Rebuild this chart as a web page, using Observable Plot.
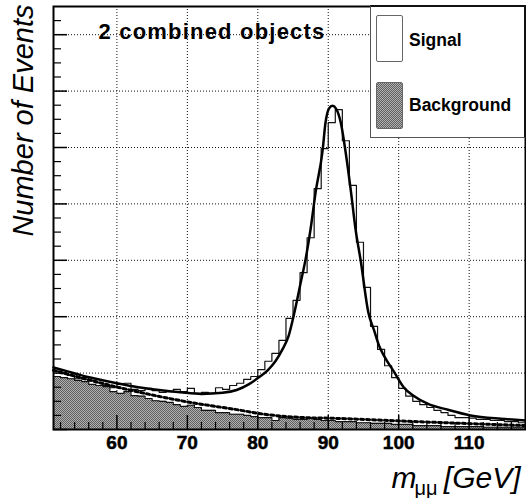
<!DOCTYPE html>
<html>
<head>
<meta charset="utf-8">
<script src="https://cdn.jsdelivr.net/npm/d3@7"></script>
<script src="https://cdn.jsdelivr.net/npm/@observablehq/plot@0.6"></script>
<style>
  html, body { margin: 0; padding: 0; background: #fff; }
  #wrap { position: relative; width: 526px; height: 498px; font-family: "Liberation Sans", Arial, Helvetica, sans-serif; }
  #legend { position: absolute; left: 370px; top: 5px; width: 156px; height: 133px; box-sizing: border-box;
    background: #fff; border-left: 1px solid #555; border-bottom: 1px solid #555; border-top: 2px solid #111; border-right: 2px solid #111; }
  .sw { position: absolute; left: 5px; width: 27px; height: 47px; box-sizing: border-box; border: 1.5px solid #666; border-radius: 2px; }
  .lab { position: absolute; left: 38px; font-size: 17.5px; font-weight: bold; line-height: 1; color: #000; white-space: nowrap; }
</style>
</head>
<body>
<div id="wrap"></div>
<script>
// ---- data ----
const binLow = [51,52,53,54,55,56,57,58,59,60,61,62,63,64,65,66,67,68,69,70,71,72,73,74,75,76,77,78,79,80,
  81,82,83,84,85,86,87,88,89,90,91,92,93,94,95,96,97,98,99,100,101,102,103,104,105,106,107,108,109,110,
  111,112,113,114,115,116,117];
const binWidth = 1;
const totalCounts = [103,99,96,90,92,87,83,78,74,80,82,71,69,73,69,66,67,71,67,73,
  64,66,64,74,71,78,82,89,94,106,121,135,158,197,229,278,340,427,498,544,
  567,512,433,332,252,183,142,113,92,73,59,50,44,39,34,30,25,21,21,20,
  18,18,16,16,14,14,12];
const backgroundCounts = [94,92,90,87,85,80,78,76,67,64,67,60,59,55,51,50,48,44,41,43,
  39,34,34,30,30,27,27,25,23,21,21,16,21,20,18,18,20,18,16,16,
  14,14,14,12,12,11,11,11,9,9,9,7,7,7,7,5,5,5,5,5,
  5,4,4,4,4,4,4];
const fitMass = [51.0,53.0,55.0,57.0,60.0,63.0,66.0,69.0,72.0,75.0,77.0,78.7,80.1,81.4,82.5,83.5,84.4,85.1,86.1,86.8,
  87.5,88.2,89.2,89.6,90.1,90.6,91.1,91.8,92.5,93.2,93.9,94.6,95.7,96.5,97.2,97.9,99.3,100.7,102.1,104.1,
  107.0,110.2,114.5,118.0];
const fitEvents = [110,103,96,90,82,75,70,66,63,65,70,80,92,105,121,142,167,202,261,303,
  356,420,495,543,569,574,569,543,489,424,353,300,207,176,149,131,103,75,60,46,
  35,25,19,16];
const bkgFitMass = [51.0,60.1,70.0,77.6,80.4,86.8,90.4,100.3,108.8,118.0];
const bkgFitEvents = [105,75,49,34,28,21,20,15,11,7];
const xTickValues = [60,70,80,90,100,110];
const xMinorTicks = [52,54,56,58,62,64,66,68,72,74,76,78,82,84,86,88,92,94,96,98,102,104,106,108,112,114,116];
const yMajorTicks = [0,100,200,300,400,500,600,700];
const yMinorTicks = [25,50,75,125,150,175,225,250,275,325,350,375,425,450,475,525,550,575,625,650,675,725];
const legendLabels = ["Signal", "Background"];
const boxLabel = "2 combined objects";
const yTitle = "Number of Events";
const xTitleMain = "m";
const xTitleSub = "μμ";
const xTitleUnit = "[GeV]";

// ---- derived tables ----
const lastEdge = binLow[binLow.length - 1] + binWidth;
const totalSteps = binLow.map((x, i) => ({x, y: totalCounts[i]})).concat([{x: lastEdge, y: totalCounts[totalCounts.length - 1]}]);
const bkgSteps = binLow.map((x, i) => ({x, y: backgroundCounts[i]})).concat([{x: lastEdge, y: backgroundCounts[backgroundCounts.length - 1]}]);
const fit = fitMass.map((x, i) => ({x, y: fitEvents[i]}));
const bkgFit = bkgFitMass.map((x, i) => ({x, y: bkgFitEvents[i]}));

function patternDefs() {
  const g = document.createElementNS("http://www.w3.org/2000/svg", "g");
  g.innerHTML = '<defs><pattern id="chk" width="2" height="2" patternUnits="userSpaceOnUse">' +
    '<rect width="2" height="2" fill="#b0b0b0"/><rect width="1" height="1" fill="#606060"/>' +
    '<rect x="1" y="1" width="1" height="1" fill="#606060"/></pattern></defs>';
  return g;
}

const FH = 498 - 6 - 69; // frame height
const FW = 526 - 53 - 1; // frame width

const chart = Plot.plot({
  width: 526,
  height: 498,
  marginLeft: 53,
  marginRight: 1,
  marginTop: 6,
  marginBottom: 69,
  style: {fontFamily: '"Liberation Sans", Arial, Helvetica, sans-serif', background: "#fff", color: "#000"},
  x: {domain: [51, 118], axis: null},
  y: {domain: [0, 750], axis: null},
  marks: [
    patternDefs,
    Plot.ruleX(xTickValues, {x: d => d, stroke: "#111", strokeWidth: 1, strokeDasharray: "1,2"}),
    Plot.ruleY(yMajorTicks.filter(d => d > 0), {y: d => d, stroke: "#111", strokeWidth: 1, strokeDasharray: "1,2"}),
    Plot.line(totalSteps, {x: "x", y: "y", curve: "step-after", stroke: "#111", strokeWidth: 1.2}),
    Plot.areaY(bkgSteps, {x: "x", y: "y", curve: "step-after", fill: "url(#chk)"}),
    Plot.line(bkgSteps, {x: "x", y: "y", curve: "step-after", stroke: "#111", strokeWidth: 1.2}),
    Plot.line(bkgFit, {x: "x", y: "y", curve: "monotone-x", stroke: "#000", strokeWidth: 3, strokeDasharray: "3,3"}),
    Plot.line(fit, {x: "x", y: "y", curve: "monotone-x", stroke: "#000", strokeWidth: 2.5}),
    Plot.tickX(xTickValues, {x: d => d, insetTop: FH - 14, stroke: "#000", strokeWidth: 1.5}),
    Plot.tickX(xMinorTicks, {x: d => d, insetTop: FH - 7, stroke: "#000", strokeWidth: 1.2}),
    Plot.tickY(yMajorTicks, {y: d => d, insetRight: FW - 14, stroke: "#000", strokeWidth: 1.5}),
    Plot.tickY(yMinorTicks, {y: d => d, insetRight: FW - 8, stroke: "#000", strokeWidth: 1.2}),
    Plot.frame({stroke: "#000", strokeWidth: 2}),
    Plot.text(xTickValues, {x: d => d, text: d => String(d), frameAnchor: "bottom", lineAnchor: "top",
      dy: 5.5, fontSize: 19, fontWeight: "bold", stroke: "#000", strokeWidth: 0.5, fill: "#000"}),
    Plot.text([boxLabel], {text: d => d, frameAnchor: "top-left", textAnchor: "start", lineAnchor: "bottom",
      dx: 45, dy: 32, fontSize: 22, fontWeight: "bold"}),
    Plot.text([yTitle], {text: d => d, frameAnchor: "top-left", rotate: -90, textAnchor: "end", lineAnchor: "bottom",
      dx: -21, dy: -2, fontSize: 29, fontStyle: "italic"}),
    Plot.text([xTitleUnit], {text: d => d, frameAnchor: "bottom-right", textAnchor: "end", lineAnchor: "bottom",
      dx: -5, dy: 58, fontSize: 30, fontStyle: "italic"}),
    Plot.text([xTitleSub], {text: d => d, frameAnchor: "bottom-right", textAnchor: "end", lineAnchor: "bottom",
      dx: -88, dy: 65, fontSize: 20}),
    Plot.text([xTitleMain], {text: d => d, frameAnchor: "bottom-right", textAnchor: "end", lineAnchor: "bottom",
      dx: -109, dy: 58, fontSize: 30, fontStyle: "italic"})
  ]
});

// widen the box label letter spacing like the reference; make tick labels bold
d3.select(chart).selectAll("text").filter(function () { return this.textContent === boxLabel; })
  .attr("letter-spacing", "1.2px");
d3.select(chart).selectAll("text").filter(function () { return xTickValues.map(String).includes(this.textContent); })
  .attr("font-weight", "bold");

const wrap = document.getElementById("wrap");
wrap.appendChild(chart);

// legend (HTML overlay on the plot frame)
const legend = document.createElement("div");
legend.id = "legend";
const swatchStyles = [
  {top: 8, bg: "#fff"},
  {top: 75, bg: "repeating-conic-gradient(#606060 0 25%, #b0b0b0 0 50%) 0 0 / 2px 2px"}
];
const labelTops = [25, 90];
legendLabels.forEach((name, i) => {
  const sw = document.createElement("div");
  sw.className = "sw";
  sw.style.top = swatchStyles[i].top + "px";
  sw.style.background = swatchStyles[i].bg;
  legend.appendChild(sw);
  const lb = document.createElement("div");
  lb.className = "lab";
  lb.style.top = labelTops[i] + "px";
  lb.textContent = name;
  legend.appendChild(lb);
});
wrap.appendChild(legend);
</script>
</body>
</html>
